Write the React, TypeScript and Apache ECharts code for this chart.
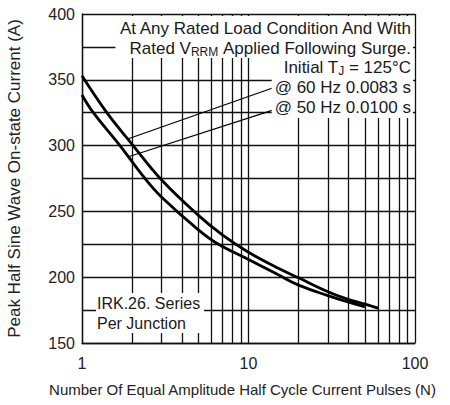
import React, { useEffect, useRef } from "react";
import * as echarts from "echarts";

const N_UPPER = [1, 1.41, 2, 3, 5, 7, 10, 15, 20, 30, 40, 50, 60];
const I_UPPER = [353, 325, 301, 274, 247, 232, 219, 207, 199.5, 189, 183, 179.5, 176.5];
const N_LOWER = [1, 1.17, 1.69, 2.39, 3, 5, 6.6, 10, 15, 20, 30, 40, 50];
const I_LOWER = [338.5, 325, 300, 275, 261, 236, 225, 213.5, 202, 194, 186, 181, 177.5];
const MINOR_X = [2, 3, 4, 5, 6, 7, 8, 9, 20, 30, 40, 50, 60, 70, 80, 90];
const LEADER_60 = [[1.88, 305], [15.1, 345.3]];
const LEADER_50 = [[1.9, 291.5], [15.1, 328.3]];

const FONT = "Liberation Sans, Arial, sans-serif";

export default function App() {
  const ref = useRef<HTMLDivElement>(null);
  useEffect(() => {
    if (!ref.current) return;
    const chart = echarts.init(ref.current, null, { renderer: "svg" });
    const gridLine = { color: "#111", width: 1.3 };
    const txt = (text: string, x: number, y: number, extra: any = {}) => ({
      type: "text",
      x,
      y,
      z: 100,
      style: {
        text,
        font: `17px ${FONT}`,
        fill: "#1a1a1a",
        align: "right",
        verticalAlign: "middle",
        backgroundColor: "#fff",
        padding: [1, 2, 1, 3],
        ...extra,
      },
    });
    const subRich = { sub: { fontSize: 12, fontFamily: FONT, fill: "#1a1a1a", padding: [8, 0, 0, 0] } };
    chart.setOption({
      animation: false,
      backgroundColor: "#fff",
      grid: { left: 82, right: 35, top: 14, bottom: 62, containLabel: false, outerBoundsMode: "none" },
      xAxis: {
        type: "log",
        logBase: 10,
        min: 1,
        max: 100,
        name: "Number Of Equal Amplitude Half Cycle Current Pulses (N)",
        nameLocation: "middle",
        nameGap: 39,
        nameTextStyle: { fontFamily: FONT, fontSize: 15, color: "#222", padding: [0, 12, 0, 0] },
        axisLine: { show: true, onZero: false, lineStyle: gridLine },
        axisTick: { show: false },
        axisLabel: { fontFamily: FONT, fontSize: 16, color: "#222", margin: 12 },
        splitLine: { show: true, lineStyle: gridLine },
      },
      yAxis: {
        type: "value",
        min: 150,
        max: 400,
        interval: 25,
        name: "Peak Half Sine Wave On-state Current (A)",
        nameLocation: "middle",
        nameGap: 59,
        nameTextStyle: { fontFamily: FONT, fontSize: 17, color: "#222" },
        axisLine: { show: true, lineStyle: gridLine },
        axisTick: { show: false },
        axisLabel: {
          fontFamily: FONT,
          fontSize: 16,
          color: "#222",
          margin: 7,
          formatter: (v: number) => (v % 50 === 0 ? String(v) : ""),
        },
        splitLine: { show: true, lineStyle: gridLine },
      },
      series: [
        {
          type: "line",
          data: [],
          silent: true,
          markLine: {
            silent: true,
            symbol: "none",
            label: { show: false },
            lineStyle: { color: "#111", width: 1.3, type: "solid" },
            data: MINOR_X.map((v) => ({ xAxis: v })),
          },
        },
        {
          type: "line",
          data: N_UPPER.map((n, i) => [n, I_UPPER[i]]),
          showSymbol: false,
          smooth: 0.4,
          lineStyle: { color: "#000", width: 2.8 },
          z: 5,
        },
        {
          type: "line",
          data: N_LOWER.map((n, i) => [n, I_LOWER[i]]),
          showSymbol: false,
          smooth: 0.4,
          lineStyle: { color: "#000", width: 2.8 },
          z: 5,
        },
        {
          type: "line",
          data: LEADER_60,
          showSymbol: false,
          lineStyle: { color: "#000", width: 1.2 },
          z: 4,
        },
        {
          type: "line",
          data: LEADER_50,
          showSymbol: false,
          lineStyle: { color: "#000", width: 1.2 },
          z: 4,
        },
      ],
      graphic: [
        txt("At Any Rated Load Condition And With", 413, 28, { padding: [5, 2, 2, 3] }),
        txt("Rated V{sub|RRM} Applied Following Surge.", 413, 48, { rich: subRich, padding: [0, 2, 0, 14] }),
        txt("Initial T{sub|J} = 125°C", 413, 67, { rich: subRich, padding: [0, 2, 0, 3] }),
        txt("@ 60 Hz 0.0083 s", 413, 87, { padding: [2, 2, 2, 3] }),
        txt("@ 50 Hz 0.0100 s", 413, 107, { padding: [2, 2, 3, 3] }),
        {
          type: "text",
          x: 96,
          y: 293,
          z: 100,
          style: {
            text: "IRK.26. Series\nPer Junction",
            font: `16px ${FONT}`,
            fill: "#1a1a1a",
            align: "left",
            verticalAlign: "top",
            lineHeight: 20,
            backgroundColor: "#fff",
            padding: [0, 4, 0, 1],
          },
        },
      ],
    });
    return () => chart.dispose();
  }, []);
  return (
    <div
      ref={ref}
      style={{ position: "absolute", left: 0, top: 0, width: 450, height: 405 }}
    />
  );
}
